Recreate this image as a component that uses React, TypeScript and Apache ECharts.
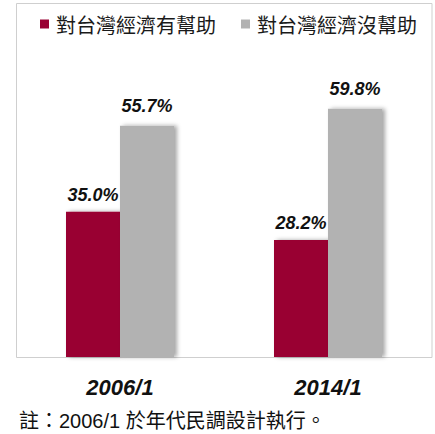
import React, { useEffect, useRef } from "react";
import * as echarts from "echarts";

const categories = ["2006/1", "2014/1"];
const seriesNames = ["對台灣經濟有幫助", "對台灣經濟沒幫助"];
const helpful = [35.0, 28.2];
const notHelpful = [55.7, 59.8];
const footnote = "註：2006/1 於年代民調設計執行。";

export default function App() {
  const ref = useRef<HTMLDivElement>(null);
  useEffect(() => {
    if (!ref.current) return;
    const chart = echarts.init(ref.current, undefined, { renderer: "svg" });
    const labelStyle = {
      show: true,
      position: "top" as const,
      fontSize: 18,
      fontWeight: "bold" as const,
      fontStyle: "italic" as const,
      fontFamily: "Liberation Sans, Arial, sans-serif",
      color: "#111",
      formatter: (p: any) => Number(p.value).toFixed(1) + "%",
    };
    chart.setOption({
      animation: false,
      backgroundColor: "#ffffff",
      legend: {
        left: 35,
        top: 9,
        itemWidth: 9,
        itemHeight: 9,
        itemGap: 25,
        icon: "rect",
        textStyle: {
          fontSize: 20,
          fontFamily: "Noto Sans CJK TC, sans-serif",
          color: "#1a1a1a",
          padding: [0, 0, 0, 2],
        },
        data: seriesNames,
      },
      grid: { left: 16, right: 3, top: 25, bottom: 77 },
      xAxis: {
        type: "category",
        data: categories,
        axisLine: { show: false },
        axisTick: { show: false },
        axisLabel: {
          fontSize: 22,
          fontWeight: "bold",
          fontStyle: "italic",
          fontFamily: "Liberation Sans, Arial, sans-serif",
          color: "#111",
          margin: 19,
        },
      },
      yAxis: {
        type: "value",
        min: 0,
        max: 80,
        show: false,
        splitLine: { show: false },
      },
      graphic: [
        {
          type: "rect",
          z: -1,
          shape: { x: 16.5, y: 3.5, width: 415.5, height: 354 },
          style: { fill: "none", stroke: "#cfcfcf", lineWidth: 1 },
        },
        {
          type: "text",
          left: 19,
          top: 411,
          style: {
            text: footnote,
            fontSize: 20,
            fontFamily: "Liberation Sans, Noto Sans CJK TC, sans-serif",
            fill: "#111",
          },
        },
      ],
      series: [
        {
          name: seriesNames[0],
          type: "bar",
          data: helpful,
          barWidth: 54,
          barGap: "0%",
          itemStyle: {
            color: "#990033",
            shadowColor: "rgba(0,0,0,0.35)",
            shadowBlur: 4,
            shadowOffsetX: 3,
          },
          label: { ...labelStyle, distance: 8 },
        },
        {
          name: seriesNames[1],
          type: "bar",
          data: notHelpful,
          barWidth: 54,
          barGap: "0%",
          itemStyle: {
            color: "#b2b2b2",
            shadowColor: "rgba(0,0,0,0.35)",
            shadowBlur: 4,
            shadowOffsetX: 3,
          },
          label: { ...labelStyle, distance: 11 },
        },
      ],
    });
    return () => chart.dispose();
  }, []);
  return <div ref={ref} style={{ width: 435, height: 434, position: "absolute", left: 0, top: 0 }} />;
}
